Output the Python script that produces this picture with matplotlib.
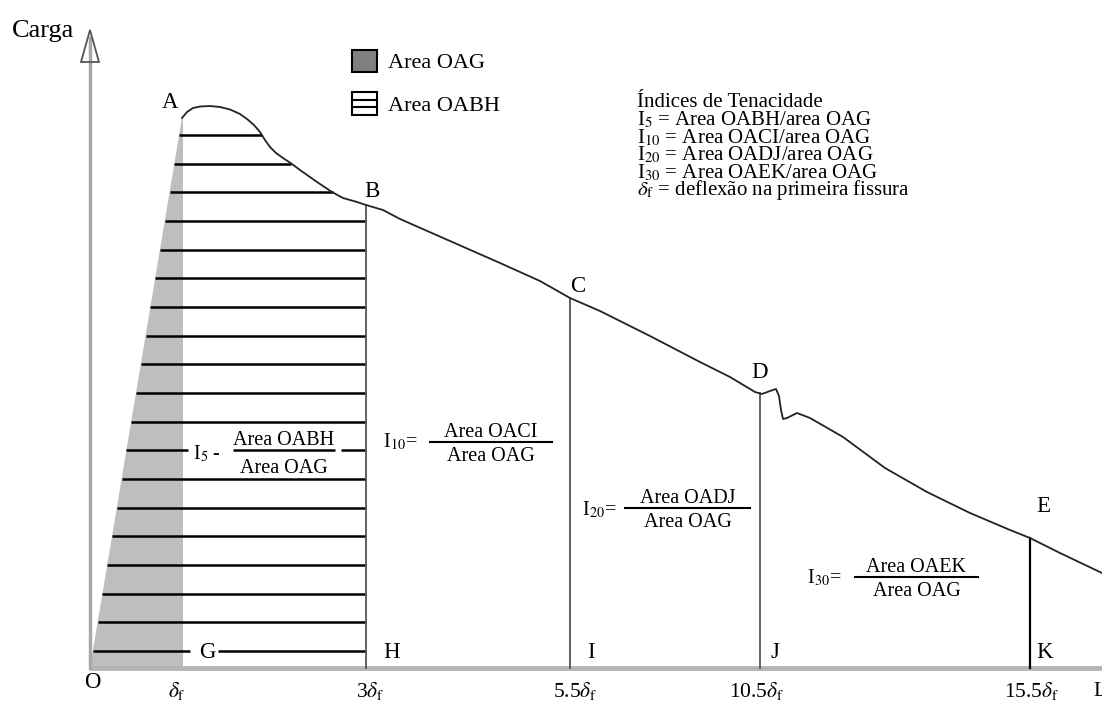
import numpy as np
import matplotlib.pyplot as plt
from matplotlib.patches import Polygon, Rectangle

plt.rcParams['font.family'] = ['Liberation Serif', 'DejaVu Serif']
plt.rcParams['mathtext.fontset'] = 'stix'

# load-deflection curve (drawing units, origin at O, load upwards)
curve_x = [92, 97, 103, 110, 120, 130, 140, 150, 157, 164, 170, 175, 180, 186, 193,
           202, 210, 227, 242, 253, 267, 276, 293, 310, 360, 410, 450, 480, 510, 560,
           610, 640, 665, 672, 680, 686, 689, 691, 693, 697, 707, 720, 753, 795, 837,
           880, 920, 940, 970, 1012]
curve_y = [550, 556, 560, 561.5, 562, 561, 558.5, 554, 549, 543, 536, 528, 521, 515, 510,
           504, 498, 486, 476, 470, 466, 463, 458, 449, 427, 405, 387, 370, 357, 332,
           306, 291, 276, 274, 277, 279, 272, 258, 249, 250, 255, 250, 231, 200, 176,
           155, 138, 130, 115, 95]

delta_f = 93                     # first crack deflection position
mark_x = [276, 480, 670, 940]    # 3, 5.5, 10.5, 15.5 delta_f
mark_labels = ['H', 'I', 'J', 'K']
point_labels = ['B', 'C', 'D', 'E']
tick_x = [87, 280, 485, 667, 942]
tick_labels = [r'$\delta_\mathrm{f}$', r'3$\delta_\mathrm{f}$', r'5.5$\delta_\mathrm{f}$',
               r'10.5$\delta_\mathrm{f}$', r'15.5$\delta_\mathrm{f}$']

info_lines = ['Índices de Tenacidade',
              'I$_5$ = Area OABH/area OAG',
              'I$_{10}$ = Area OACI/area OAG',
              'I$_{20}$ = Area OADJ/area OAG',
              'I$_{30}$ = Area OAEK/area OAG',
              r'$\delta_\mathrm{f}$ = deflexão na primeira fissura']

fig = plt.figure(figsize=(11.02, 7.07), dpi=100)
ax = fig.add_axes([0, 0, 1, 1])
ax.set_xlim(-90, 1012)
ax.set_ylim(-39, 668)
ax.axis('off')

A = (curve_x[0], curve_y[0])

# area OAG
ax.add_patch(Polygon([(0, 0), A, (delta_f, A[1]), (delta_f, 0)],
                     closed=True, facecolor='#bebebe', edgecolor='none', zorder=1))

# axes
ax.plot([0, 1012], [0, 0], color='#b4b4b4', lw=3.5, zorder=2, solid_capstyle='butt')
ax.plot([0, 0], [0, 630], color='#a8a8a8', lw=2.5, zorder=2)
ax.add_patch(Polygon([(-9, 606), (0, 638), (9, 606)], closed=True,
                     facecolor='none', edgecolor='#555555', lw=1.3, zorder=3))

# area OABH hatch
cx = np.array(curve_x)
cy = np.array(curve_y)
desc = (cx >= 120) & (cx <= mark_x[0])
hatch_y = np.linspace(17, 533, 19)
for k, y in enumerate(hatch_y):
    xl = y * A[0] / A[1]
    if y > np.interp(mark_x[0], cx, cy):
        xr = np.interp(y, cy[desc][::-1], cx[desc][::-1])
    else:
        xr = mark_x[0]
    if k == 0:
        segs = [(xl, 100), (128, xr)]
    elif k == 7:
        segs = [(xl, 98), (143, 245), (251, xr)]
    else:
        segs = [(xl, xr)]
    for a, b in segs:
        ax.plot([a, b], [y, y], color='black', lw=1.8, zorder=3, solid_capstyle='butt')

# verticals
for i, x in enumerate(mark_x):
    top = np.interp(x, cx, cy)
    col = 'black' if i == 3 else '#555555'
    ax.plot([x, x], [0, top], color=col, lw=1.6 if i == 3 else 1.3, zorder=3)

# curve
ax.plot(curve_x, curve_y, color='#222222', lw=1.3, zorder=4)

# point labels
fs = 16.5
ax.text(80, 560, 'A', fontsize=fs, ha='center', va='baseline')
ax.text(117, 10, 'G', fontsize=fs, ha='center', va='baseline')
for lab, x, y in zip(point_labels, [282, 488, 670, 953], [471, 376, 290, 156]):
    ax.text(x, y, lab, fontsize=fs, ha='center', va='baseline')
for lab, x in zip(mark_labels, [302, 501, 685, 955]):
    ax.text(x, 10, lab, fontsize=fs, ha='center', va='baseline')

# ticks
ax.text(2, -20, 'O', fontsize=fs, ha='center', va='baseline')
for lab, x in zip(tick_labels, tick_x):
    ax.text(x, -29, lab, fontsize=15.5, ha='center', va='baseline')
ax.text(1003, -28, 'L', fontsize=15.5, ha='left', va='baseline')
ax.text(-78, 631, 'Carga', fontsize=19, ha='left', va='baseline')

# legend
ax.add_patch(Rectangle((262, 596), 25, 22, facecolor='#808080', edgecolor='black', lw=1.5, zorder=3))
ax.add_patch(Rectangle((262, 553), 25, 23, facecolor='white', edgecolor='black', lw=1.5, zorder=3))
for yy in [553 + 23 / 3, 553 + 46 / 3]:
    ax.plot([262, 287], [yy, yy], color='black', lw=1.5, zorder=3)
ax.text(298, 600, 'Area OAG', fontsize=16, ha='left', va='baseline')
ax.text(298, 557, 'Area OABH', fontsize=16, ha='left', va='baseline')

# info block
for line, y in zip(info_lines, [561, 543, 525, 508, 490, 473]):
    ax.text(547, y, line, fontsize=15, ha='left', va='baseline')

# formulas
ffs = 14.5
ax.text(103, 209, 'I$_5$ -', fontsize=ffs, ha='left', va='baseline')
ax.text(194, 223, 'Area OABH', fontsize=ffs, ha='center', va='baseline')
ax.text(194, 195, 'Area OAG', fontsize=ffs, ha='center', va='baseline')

formulas = [('I$_{10}$=', 293, 221, 340, 462, 226, 'Area OACI'),
            ('I$_{20}$=', 492, 153, 535, 660, 160, 'Area OADJ'),
            ('I$_{30}$=', 717, 85, 765, 888, 91, 'Area OAEK')]
for lhs, lx, ly, b0, b1, by, num in formulas:
    ax.text(lx, ly, lhs, fontsize=ffs, ha='left', va='baseline')
    ax.plot([b0, b1], [by, by], color='black', lw=1.5, zorder=3)
    ax.text((b0 + b1) / 2, by + 5, num, fontsize=ffs, ha='center', va='baseline')
    ax.text((b0 + b1) / 2, by - 19, 'Area OAG', fontsize=ffs, ha='center', va='baseline')

fig.savefig('out.png', dpi=100)
